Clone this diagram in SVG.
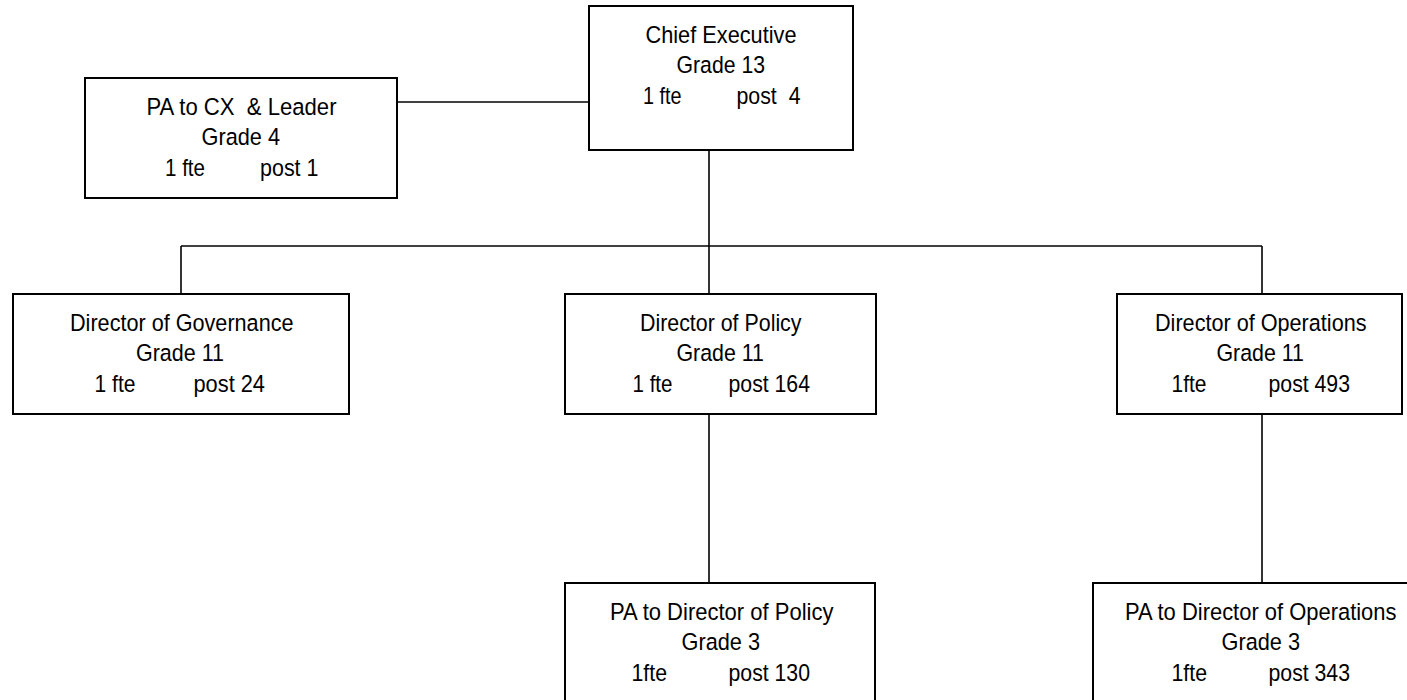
<svg xmlns="http://www.w3.org/2000/svg" width="1407" height="700" viewBox="0 0 1407 700">
  <style>
    .box { fill: #ffffff; stroke: #000000; stroke-width: 2; }
    .link { fill: none; stroke: #000000; stroke-width: 1.6; }
    text { font-family: "Liberation Sans Narrow", "Liberation Sans", Arial, sans-serif; font-size: 24.5px; fill: #000000; }
  </style>
  <rect width="1407" height="700" fill="#ffffff"/>

  <!-- reporting lines -->
  <g id="connectors">
    <line class="link" x1="397" y1="102" x2="589" y2="102"/>
    <line class="link" x1="709" y1="150" x2="709" y2="294"/>
    <line class="link" x1="181" y1="246" x2="1262" y2="246"/>
    <line class="link" x1="181" y1="246" x2="181" y2="294"/>
    <line class="link" x1="1262" y1="246" x2="1262" y2="294"/>
    <line class="link" x1="709" y1="414" x2="709" y2="583"/>
    <line class="link" x1="1262" y1="414" x2="1262" y2="583"/>
  </g>

  <!-- condensed lettering: each line is fitted to its width -->
  <g id="chief-executive">
    <rect class="box" x="589" y="6" width="264" height="144"/>
    <text x="645.5" y="42.5" textLength="151" lengthAdjust="spacingAndGlyphs">Chief Executive</text>
    <text x="676.5" y="73.2" textLength="88.5" lengthAdjust="spacingAndGlyphs">Grade 13</text>
    <text x="643" y="104" textLength="38.5" lengthAdjust="spacingAndGlyphs">1 fte</text>
    <text x="736.5" y="104" textLength="64" lengthAdjust="spacingAndGlyphs" xml:space="preserve">post  4</text>
  </g>

  <g id="pa-to-cx">
    <rect class="box" x="85" y="78" width="312" height="120"/>
    <text x="146.5" y="114.5" textLength="190" lengthAdjust="spacingAndGlyphs" xml:space="preserve">PA to CX  &amp; Leader</text>
    <text x="201.5" y="145.2" textLength="78.5" lengthAdjust="spacingAndGlyphs">Grade 4</text>
    <text x="165" y="176" textLength="40" lengthAdjust="spacingAndGlyphs">1 fte</text>
    <text x="260" y="176" textLength="58.5" lengthAdjust="spacingAndGlyphs">post 1</text>
  </g>

  <g id="director-governance">
    <rect class="box" x="13" y="294" width="336" height="120"/>
    <text x="70" y="330.5" textLength="223.5" lengthAdjust="spacingAndGlyphs">Director of Governance</text>
    <text x="136" y="361.2" textLength="88" lengthAdjust="spacingAndGlyphs">Grade 11</text>
    <text x="94.5" y="392" textLength="41" lengthAdjust="spacingAndGlyphs">1 fte</text>
    <text x="193.5" y="392" textLength="71.5" lengthAdjust="spacingAndGlyphs">post 24</text>
  </g>

  <g id="director-policy">
    <rect class="box" x="565" y="294" width="311" height="120"/>
    <text x="640" y="330.5" textLength="161.5" lengthAdjust="spacingAndGlyphs">Director of Policy</text>
    <text x="676.5" y="361.2" textLength="87.5" lengthAdjust="spacingAndGlyphs">Grade 11</text>
    <text x="632.5" y="392" textLength="40" lengthAdjust="spacingAndGlyphs">1 fte</text>
    <text x="728.5" y="392" textLength="81.5" lengthAdjust="spacingAndGlyphs">post 164</text>
  </g>

  <g id="director-operations">
    <rect class="box" x="1117" y="294" width="285" height="120"/>
    <text x="1155" y="330.5" textLength="211.5" lengthAdjust="spacingAndGlyphs">Director of Operations</text>
    <text x="1216.5" y="361.2" textLength="87.5" lengthAdjust="spacingAndGlyphs">Grade 11</text>
    <text x="1171.5" y="392" textLength="35" lengthAdjust="spacingAndGlyphs">1fte</text>
    <text x="1268.5" y="392" textLength="81.5" lengthAdjust="spacingAndGlyphs">post 493</text>
  </g>

  <g id="pa-director-policy">
    <rect class="box" x="565" y="583" width="310" height="130"/>
    <text x="610" y="619.5" textLength="223.5" lengthAdjust="spacingAndGlyphs">PA to Director of Policy</text>
    <text x="681.5" y="650.2" textLength="78.5" lengthAdjust="spacingAndGlyphs">Grade 3</text>
    <text x="631.5" y="681" textLength="35.5" lengthAdjust="spacingAndGlyphs">1fte</text>
    <text x="728.5" y="681" textLength="81.5" lengthAdjust="spacingAndGlyphs">post 130</text>
  </g>

  <g id="pa-director-operations">
    <rect class="box" x="1093" y="583" width="340" height="130"/>
    <text x="1125" y="619.5" textLength="271.5" lengthAdjust="spacingAndGlyphs">PA to Director of Operations</text>
    <text x="1221.5" y="650.2" textLength="78.5" lengthAdjust="spacingAndGlyphs">Grade 3</text>
    <text x="1171.5" y="681" textLength="35.5" lengthAdjust="spacingAndGlyphs">1fte</text>
    <text x="1268.5" y="681" textLength="81.5" lengthAdjust="spacingAndGlyphs">post 343</text>
  </g>
</svg>
